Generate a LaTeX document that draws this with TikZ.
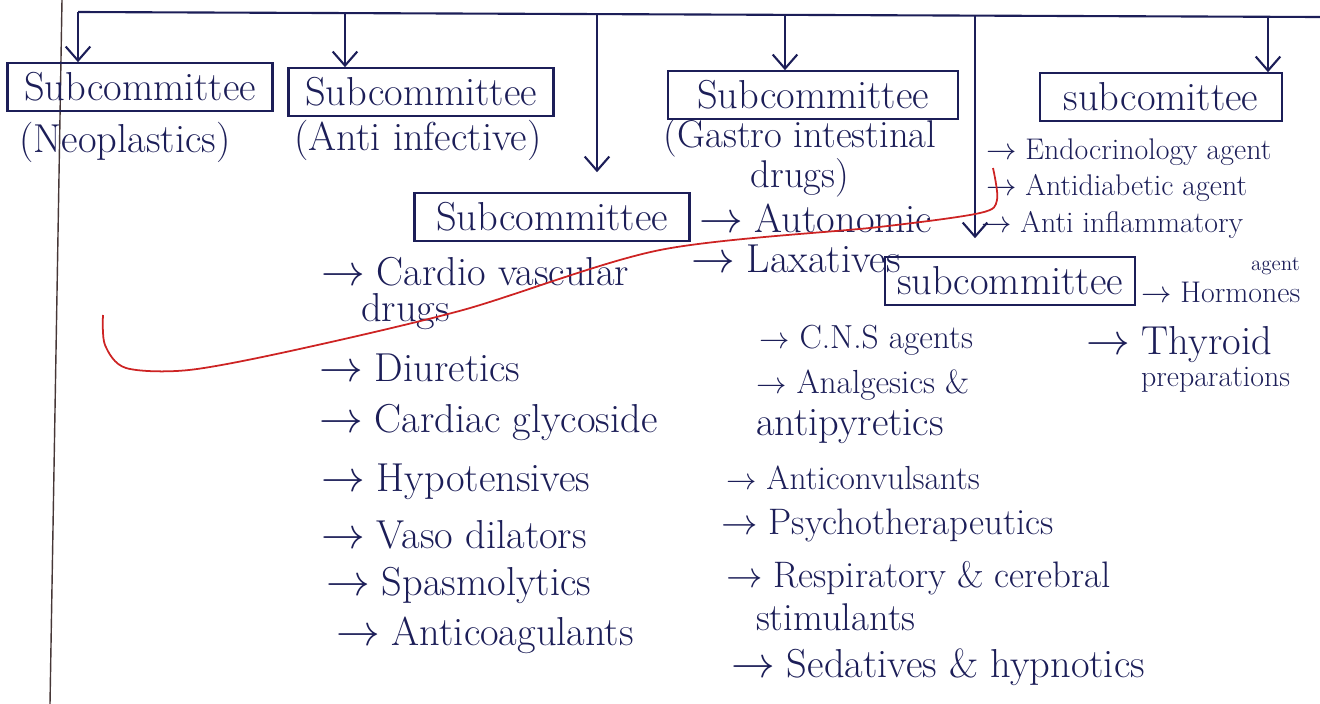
\documentclass[tikz,border=0pt]{standalone}
\usetikzlibrary{arrows.meta}
\definecolor{ink}{RGB}{28,30,88}
\definecolor{redink}{RGB}{205,35,35}
\definecolor{margin}{RGB}{70,55,55}
\newcommand{\handbig}{\fontsize{23}{27}\selectfont}
\newcommand{\handsmall}{\fontsize{17}{20}\selectfont}
\newcommand{\handtiny}{\fontsize{12}{14}\selectfont}
\tikzset{
	subbox/.style={draw,line width=1.2pt,inner sep=2pt,minimum height=0.95cm,font=\handbig},
	subnote/.style={inner sep=0pt,font=\handbig},
	item/.style={anchor=west,inner sep=0pt,font=\handbig},
	smallitem/.style={anchor=west,inner sep=0pt,font=\handsmall}
}
\begin{document}
\begin{tikzpicture}[x=0.02cm,y=-0.02cm,ink,line width=1.2pt,>={Straight Barb[length=8pt,width=14pt]}]
	\useasboundingbox (0,0) rectangle (1320,704);
	%margin
	\draw[margin,line width=0.8pt] (62,0) -- (50,704);
	%bus
	\coordinate (b1) at (78,12);
	\coordinate (b2) at (345,12);
	\coordinate (b3) at (597,13);
	\coordinate (b4) at (785,14);
	\coordinate (b5) at (975,15);
	\coordinate (b6) at (1268,16);
	\coordinate (bend) at (1320,17);
	\draw (b1) -- (bend);
	%subcommittees
	\node[subbox,minimum width=5.3cm] (sc1) at (140,87) {Subcommittee};
	\node[subbox,minimum width=5.3cm] (sc2) at (421,92) {Subcommittee};
	\node[subbox,minimum width=5.8cm] (sc3) at (813,95) {Subcommittee};
	\node[subbox,minimum width=5.5cm] (sc4) at (552,217) {Subcommittee};
	\node[subbox,minimum width=4.85cm] (sc5) at (1161,97) {subcomittee};
	\node[subbox,minimum width=5cm] (sc6) at (1010,281) {subcommittee};
	%arrows
	\draw[->] (b1) -- (b1 |- sc1.north);
	\draw[->] (b2) -- (b2 |- sc2.north);
	\draw[->,shorten >=0.4cm] (b3) -- (b3 |- sc4.north);
	\draw[->] (b4) -- (b4 |- sc3.north);
	\draw[->,shorten >=0.36cm] (b5) -- (b5 |- sc6.north);
	\draw[->] (b6) -- (b6 |- sc5.north);
	%notes
	\node[subnote] (neo) at (125,142) {(Neoplastics)};
	\node[subnote] (anti) at (418,140) {(Anti infective)};
	\node[subnote,align=center,font=\fontsize{22}{20}\selectfont] (gas) at (800,158) {(Gastro intestinal\\drugs)};
	%cardio
	\node[item] (c1) at (320,272) {$\rightarrow$ Cardio vascular};
	\node[item] (c1b) at (360,312) {drugs};
	\node[item] (c2) at (318,368) {$\rightarrow$ Diuretics};
	\node[item] (c3) at (318,422) {$\rightarrow$ Cardiac glycoside};
	\node[item] (c4) at (320,482) {$\rightarrow$ Hypotensives};
	\node[item] (c5) at (320,535) {$\rightarrow$ Vaso dilators};
	\node[item] (c6) at (325,585) {$\rightarrow$ Spasmolytics};
	\node[item] (c7) at (335,635) {$\rightarrow$ Anticoagulants};
	%gastro
	\node[item] (g1) at (698,218) {$\rightarrow$ Autonomic};
	\node[item] (g2) at (690,259) {$\rightarrow$ Laxatives};
	%endocrine
	\node[smallitem] (e1) at (985,152) {$\rightarrow$ Endocrinology agent};
	\node[smallitem] (e2) at (985,188) {$\rightarrow$ Antidiabetic agent};
	\node[smallitem] (e3) at (980,225) {$\rightarrow$ Anti inflammatory};
	\node[anchor=west,inner sep=0pt,font=\handtiny] (e3b) at (1250,266) {agent};
	%hormones
	\node[smallitem] (h1) at (1140,292) {$\rightarrow$ Hormones};
	\node[item] (h2) at (1085,345) {$\rightarrow$ Thyroid};
	\node[smallitem] (h3) at (1140,380) {preparations};
	%cns
	\node[smallitem,font=\fontsize{19}{22}\selectfont] (n1) at (758,340) {$\rightarrow$ C.N.S agents};
	\node[smallitem,font=\fontsize{19}{22}\selectfont] (n2) at (755,385) {$\rightarrow$ Analgesics \&};
	\node[item] (n2b) at (755,427) {antipyretics};
	\node[smallitem,font=\fontsize{19}{22}\selectfont] (n3) at (725,478) {$\rightarrow$ Anticonvulsants};
	\node[item,font=\fontsize{21}{25}\selectfont] (n4) at (720,525) {$\rightarrow$ Psychotherapeutics};
	\node[item,font=\fontsize{21}{25}\selectfont] (n5) at (725,578) {$\rightarrow$ Respiratory \& cerebral};
	\node[item,font=\fontsize{22}{26}\selectfont] (n5b) at (755,617) {stimulants};
	\node[item] (n6) at (730,667) {$\rightarrow$ Sedatives \& hypnotics};
	%red line
	\draw[redink,line width=1pt] plot[smooth] coordinates {(993,168) (997,200) (980,213) (879,227) (660,250) (463,310) (295,350) (189,370) (126,368) (105,345) (103,315)};
\end{tikzpicture}
\end{document}
